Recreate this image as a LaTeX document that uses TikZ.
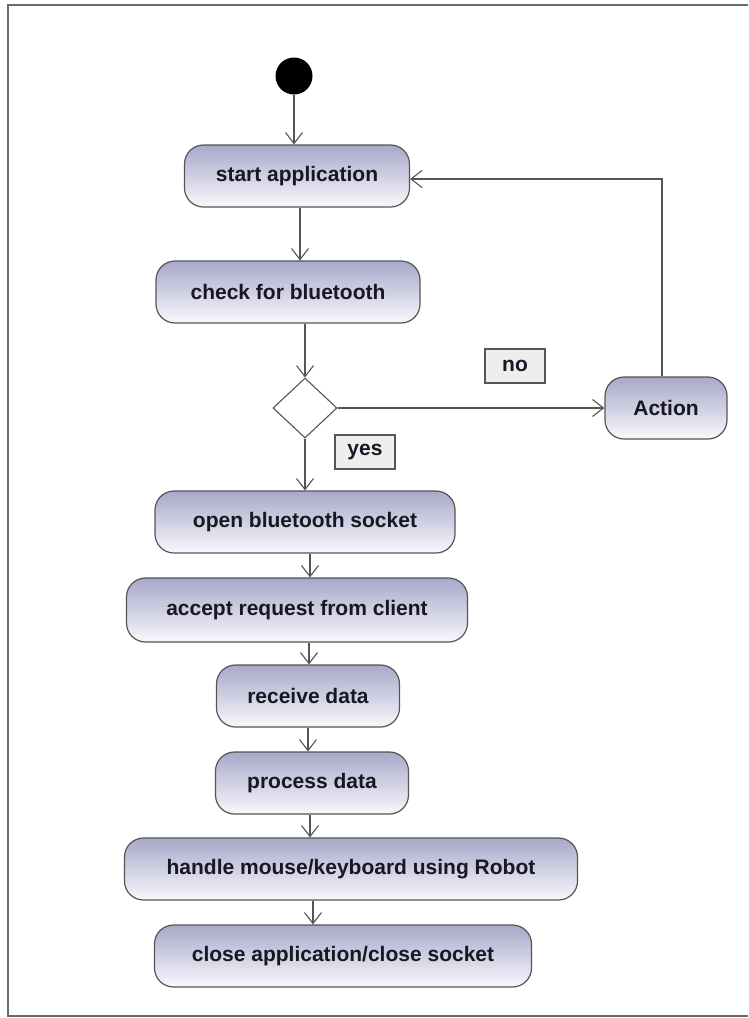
\documentclass[tikz,border=0pt]{standalone}
\usepackage{fontspec}
\setmainfont{Liberation Sans}
\usetikzlibrary{arrows.meta,shapes.geometric}
\definecolor{edgegray}{RGB}{85,85,85}
\definecolor{framegray}{RGB}{105,105,105}
\definecolor{acttop}{RGB}{168,168,202}
\definecolor{actbottom}{RGB}{248,248,252}
\definecolor{guardfill}{RGB}{238,238,238}
\definecolor{inkdark}{RGB}{24,24,36}
\tikzset{
  act/.style={draw=edgegray, line width=1.2pt, rounded corners=19pt,
    top color=acttop, bottom color=actbottom, minimum height=62pt,
    inner sep=0pt, text=inkdark, font=\fontsize{21}{25}\selectfont\bfseries},
  guard/.style={draw=edgegray, line width=1.2pt, fill=guardfill,
    minimum height=34pt, minimum width=60pt, inner sep=0pt, text=inkdark,
    font=\fontsize{21}{25}\selectfont\bfseries},
  decision/.style={diamond, draw=edgegray, line width=1.1pt, fill=white,
    minimum width=64pt, minimum height=60pt, inner sep=0pt},
  initial/.style={circle, fill=black, minimum size=37pt, inner sep=0pt},
  flow/.style={draw=edgegray, line width=1.2pt,
    -{Straight Barb[length=11pt,width=17pt,line width=1.1pt]}},
  frame/.style={draw=framegray, line width=2.4pt}
}
\begin{document}
\begin{tikzpicture}[x=1pt,y=-1pt]
  \useasboundingbox (0,0) rectangle (748,1018);
  \fill[white] (0,0) rectangle (748,1018);
  % outer frame
  \draw[frame] (748,5) -- (8,5) -- (8,1016) -- (748,1016);

  % nodes
  \node[initial] (init) at (294,76) {};
  \node[act, minimum width=225pt] (start) at (297,176) {start application};
  \node[act, minimum width=264pt] (check) at (288,292) {check for bluetooth};
  \node[decision] (dec) at (305,408) {};
  \node[act, minimum width=122pt] (action) at (666,408) {Action};
  \node[guard] (no) at (515,366) {no};
  \node[guard] (yes) at (365,452) {yes};
  \node[act, minimum width=300pt] (open) at (305,522) {open bluetooth socket};
  \node[act, minimum width=341pt, minimum height=64pt] (accept) at (297,610) {accept request from client};
  \node[act, minimum width=183pt] (receive) at (308,696) {receive data};
  \node[act, minimum width=193pt] (process) at (312,783) {process data};
  \node[act, minimum width=453pt] (handle) at (351,869) {handle mouse/keyboard using Robot};
  \node[act, minimum width=377pt] (close) at (343,956) {close application/close socket};

  % connectors
  \draw[flow] (init) -- (init |- start.north);
  \draw[flow] ([xshift=3pt]start.south) -- ([xshift=3pt]start.south |- check.north);
  \draw[flow] (check.south -| dec.north) -- (dec.north);
  \draw[flow] (dec.south) -- (dec.south |- open.north);
  \draw[flow] (dec.east) -- (action.west);
  \draw[flow] ([xshift=-4pt]action.north) |- ([yshift=-3pt]start.east);
  \draw[flow] ([xshift=5pt]open.south) -- ([xshift=5pt]open.south |- accept.north);
  \draw[flow] ([xshift=12pt]accept.south) -- ([xshift=12pt]accept.south |- receive.north);
  \draw[flow] (receive.south) -- (receive.south |- process.north);
  \draw[flow] ([xshift=-2pt]process.south) -- ([xshift=-2pt]process.south |- handle.north);
  \draw[flow] ([xshift=-38pt]handle.south) -- ([xshift=-38pt]handle.south |- close.north);
\end{tikzpicture}
\end{document}
